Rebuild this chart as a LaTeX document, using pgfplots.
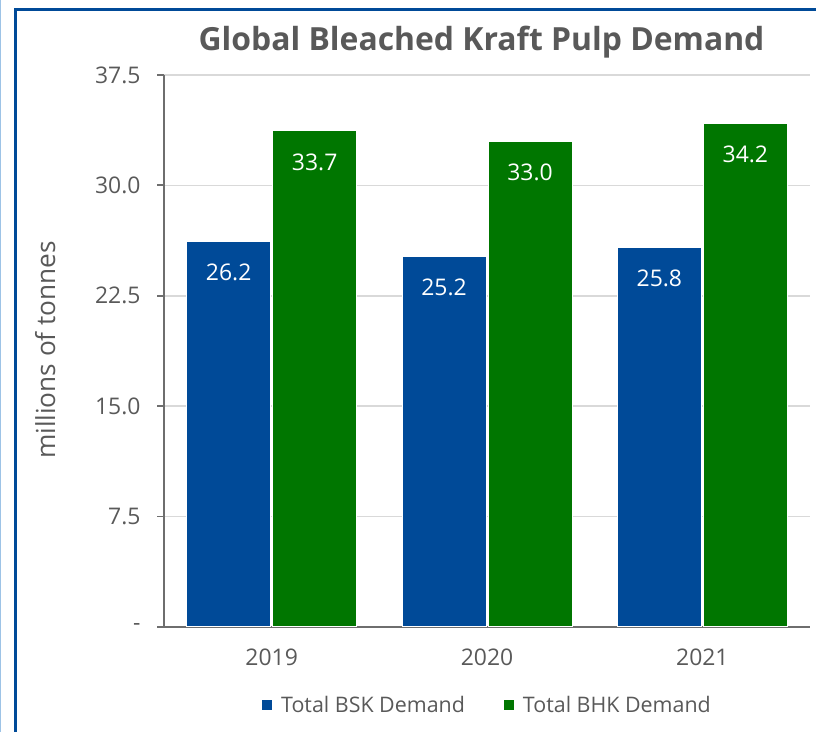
\documentclass[border=0pt]{standalone}
\usepackage{fontspec}
\setmainfont{Open Sans}
\usepackage{pgfplots}
\pgfplotsset{compat=1.18}
\definecolor{bskblue}{RGB}{0,74,152}
\definecolor{bhkgreen}{RGB}{0,118,0}
\definecolor{txtgray}{RGB}{89,89,89}
\definecolor{axgray}{RGB}{110,110,110}
\definecolor{gridgray}{RGB}{217,217,217}
\definecolor{lightbl}{RGB}{157,195,230}

\begin{document}
\begin{tikzpicture}[x=1bp,y=1bp]
\useasboundingbox (0,0) rectangle (816,732);
\fill[lightbl] (0,0) rectangle (1.5,732);
\draw[bskblue, line width=3bp] (15.5,0) -- (15.5,722.5) -- (816,722.5);
\begin{axis}[
  at={(164bp,105bp)}, anchor=south west,
  scale only axis, width=646bp, height=552bp,
  ybar, bar width=84bp,
  xmin=-0.5, xmax=2.5, ymin=0, ymax=37.5,
  xtick={0,1,2}, xticklabels={2019,2020,2021},
  ytick={0,7.5,15,22.5,30,37.5},
  yticklabels={-,7.5,15.0,22.5,30.0,37.5},
  axis x line*=bottom, axis y line*=left,
  axis line style={axgray, line width=1.8bp},
  tick align=outside,
  major tick length=7bp,
  tick style={axgray, line width=1.8bp},
  xtick style={draw=none},
  extra x ticks={-0.5,0.5,1.5,2.5},
  extra x tick labels={},
  extra x tick style={xmajorgrids=false, major tick length=8bp, tick style={draw=axgray, line width=1.8bp}},
  ymajorgrids, grid style={gridgray, line width=1.5bp},
  /pgf/number format/assume math mode=true,
  ticklabel style={font=\fontsize{23}{27}\selectfont, text=txtgray},
  yticklabel style={xshift=-13bp},
  xticklabel style={yshift=-11bp},
  ylabel={millions of tonnes},
  every axis y label/.style={at={(axis description cs:-0.184,0.502)}, rotate=90, anchor=center, font=\fontsize{26.3}{31}\selectfont, text=txtgray},
  title={Global Bleached Kraft Pulp Demand},
  title style={at={(axis description cs:0.4915,1.049)}, anchor=center, font=\fontsize{32}{38}\selectfont\bfseries, text=txtgray},
  nodes near coords,
  nodes near coords style={anchor=center, yshift=-31bp, text=white, font=\fontsize{23}{27}\selectfont, /pgf/number format/.cd, fixed, fixed zerofill, precision=1, assume math mode=true},
  legend columns=2,
  legend style={at={(axis description cs:0.5,-0.1413)}, anchor=center, draw=none, fill=none, font=\fontsize{21.5}{25}\selectfont, text=txtgray,
    /tikz/every odd column/.append style={column sep=6bp},
    /tikz/every even column/.append style={column sep=36bp}},
  legend image code/.code={\fill[#1] (0bp,-5.5bp) rectangle (11bp,5.5bp);},
]
\addplot[fill=bskblue, draw=white, line width=1bp] coordinates {(0,26.2) (1,25.2) (2,25.8)};
\addplot[fill=bhkgreen, draw=white, line width=1bp] coordinates {(0,33.7) (1,33.0) (2,34.2)};
\legend{Total BSK Demand, Total BHK Demand}
\end{axis}
\end{tikzpicture}
\end{document}
